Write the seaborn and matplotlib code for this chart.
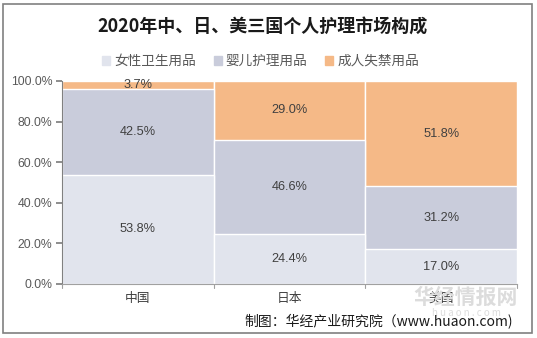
import matplotlib
matplotlib.use("Agg")
import matplotlib.pyplot as plt
import seaborn as sns
import pandas as pd
import numpy as np
from matplotlib.patches import Rectangle

countries = ["中国", "日本", "美国"]
series_names = ["女性卫生用品", "婴儿护理用品", "成人失禁用品"]
feminine = [53.8, 24.4, 17.0]
baby = [42.5, 46.6, 31.2]
adult = [3.7, 29.0, 51.8]
colors = ["#E1E4ED", "#C9CCDB", "#F5B987"]

sns.set_theme(style="white")
plt.rcParams["font.family"] = ["Noto Sans CJK SC", "DejaVu Sans"]

fig = plt.figure(figsize=(5.37, 3.38), dpi=100)
ax = fig.add_axes([62/537, 1-284/338, (517-62)/537, (284-81)/338])

df = pd.DataFrame({"country": countries, "f": feminine, "b": baby, "a": adult})
df["top"] = df["f"] + df["b"] + df["a"]
df["mid"] = df["f"] + df["b"]

for col, c in [("top", colors[2]), ("mid", colors[1]), ("f", colors[0])]:
    sns.barplot(data=df, x="country", y=col, color=c, width=1.0, saturation=1,
                edgecolor="white", linewidth=1.0, ax=ax)

# labels
for i in range(len(countries)):
    f, b, a = feminine[i], baby[i], adult[i]
    for val, center in [(f, f/2), (b, f + b/2), (a, f + b + a/2)]:
        ax.text(i, center, f"{val:.1f}%", ha="center", va="center",
                fontsize=9.2, color="#404040", family=["Liberation Sans", "DejaVu Sans"])

ax.set_xlim(-0.5, 2.5)
ax.set_ylim(0, 100)
ax.set_xlabel("")
ax.set_ylabel("")
ax.set_yticks(np.arange(0, 101, 20))
ax.set_yticklabels([f"{v:.1f}%" for v in np.arange(0, 101, 20)],
                   fontsize=8.8, color="#595959", family=["Liberation Sans", "DejaVu Sans"])
ax.set_xticks(range(3))
ax.set_xticklabels(countries, fontsize=9.2, color="#404040")
ax.tick_params(axis="x", length=0, pad=6)
ax.tick_params(axis="y", length=4, color="#808080", left=True, pad=3)
# x boundary ticks
for xb in [-0.5, 0.5, 1.5, 2.5]:
    ax.plot([xb, xb], [0, -1.8], color="#A0A0A0", lw=0.8, clip_on=False)
for s in ["top", "right"]:
    ax.spines[s].set_visible(False)
ax.spines["left"].set_color("#808080")
ax.spines["bottom"].set_color("#A0A0A0")
ax.spines["left"].set_linewidth(0.8)
ax.spines["bottom"].set_linewidth(0.8)

# title
fig.text(0.5 - 6/537, 1-27/338, "2020年中、日、美三国个人护理市场构成", ha="center", va="center",
         fontsize=13, fontweight="bold", color="#1a1a1a")

# legend
handles = [Rectangle((0, 0), 1, 1, color=c) for c in colors]
fig.legend(handles, series_names, loc="center", bbox_to_anchor=(0.5 - 8/537, 1-61/338),
           ncol=3, frameon=False, fontsize=9.8, handlelength=0.6, handleheight=0.6,
           handletextpad=0.3, columnspacing=1.3, labelcolor="#595959")

# watermark
fig.text(466/537, 1-297/338, "华经情报网", ha="center", va="center", fontsize=15,
         fontweight="bold", color="#DCDCDC", zorder=0)
fig.text(466/537, 1-313/338, "h u a o n . c o m", ha="center", va="center", fontsize=7,
         color="#DCDCDC", zorder=0)

# footnote
fig.text(513/537, 1-322/338, "制图：华经产业研究院（www.huaon.com)", ha="right", va="center",
         fontsize=10, color="#1a1a1a")

# border
fig.patches.append(Rectangle((3/537, 1-333/338), (532-3)/537, (333-4)/338,
                             transform=fig.transFigure, fill=False, edgecolor="#808080",
                             linewidth=1.2))

fig.savefig("out.png", dpi=100)
